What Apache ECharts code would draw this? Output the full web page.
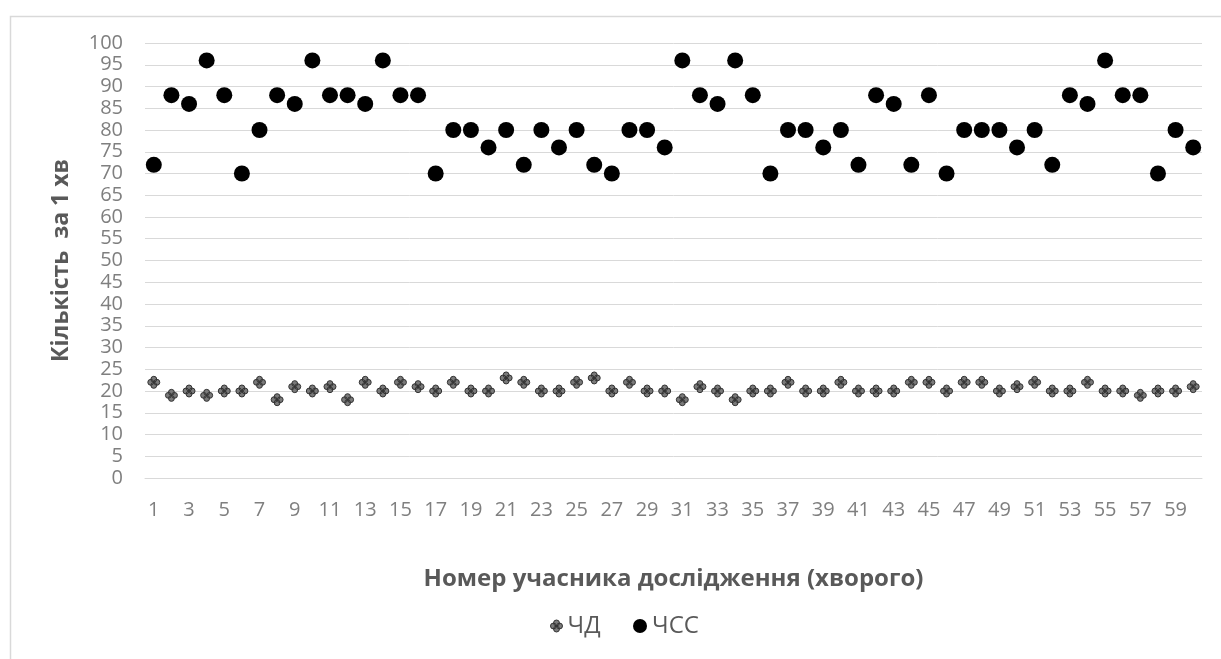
<!DOCTYPE html>
<html>
<head>
<meta charset="utf-8">
<script src="https://cdn.jsdelivr.net/npm/echarts@6/dist/echarts.min.js"></script>
<style>
html,body{margin:0;padding:0;background:#fff;}
#chart{width:1221px;height:659px;}
</style>
</head>
<body>
<div id="chart"></div>
<script>
const categories = Array.from({length: 60}, (_, i) => String(i + 1));
const rrValues = [22,19,20,19,20,20,22,18,21,20, 21,18,22,20,22,21,20,22,20,20,
                  23,22,20,20,22,23,20,22,20,20, 18,21,20,18,20,20,22,20,20,22,
                  20,20,20,22,22,20,22,22,20,21, 22,20,20,22,20,20,19,20,20,21];
const hrValues = [72,88,86,96,88,70,80,88,86,96, 88,88,86,96,88,88,70,80,80,76,
                  80,72,80,76,80,72,70,80,80,76, 96,88,86,96,88,70,80,80,76,80,
                  72,88,86,72,88,70,80,80,80,76, 80,72,88,86,96,88,88,70,80,76];
const seriesNames = ['ЧД', 'ЧСС'];
const yTitle = 'Кількість  за 1 хв';
const xTitle = 'Номер учасника дослідження (хворого)';

const font = '"Open Sans", "Noto Sans", sans-serif';
const clover = 'path://M0,-2a1,1 0 1,0 0.01,0zM0,0.1a1,1 0 1,0 0.01,0zM-1.05,-0.95a1,1 0 1,0 0.01,0zM1.05,-0.95a1,1 0 1,0 0.01,0z';
const legendText = {fontSize: 24, color: '#595959', fontFamily: font};

const chart = echarts.init(document.getElementById('chart'));
chart.setOption({
  animation: false,
  backgroundColor: '#fff',
  textStyle: {fontFamily: font},
  graphic: [{
    type: 'rect', left: 8, top: 14, z: -1,
    shape: {width: 1300, height: 700},
    style: {fill: 'none', stroke: '#d9d9d9', lineWidth: 1.5}
  }],
  grid: {left: 145, right: 19, top: 43, bottom: 181, containLabel: false},
  legend: [
    {
      left: 545, top: 609, itemWidth: 12, itemHeight: 12, textStyle: legendText,
      data: [{name: seriesNames[0], icon: clover, itemStyle: {color: '#7a7a7a', borderColor: '#333', borderWidth: 1}}]
    },
    {
      left: 628, top: 609, itemWidth: 14, itemHeight: 14, textStyle: legendText,
      data: [{name: seriesNames[1], icon: 'circle', itemStyle: {color: '#000'}}]
    }
  ],
  xAxis: {
    type: 'category',
    data: categories,
    boundaryGap: true,
    axisLine: {show: true, lineStyle: {color: '#d9d9d9'}},
    axisTick: {show: false},
    axisLabel: {interval: 1, color: '#7f7f7f', fontSize: 20, margin: 22, fontFamily: font},
    name: xTitle,
    nameLocation: 'middle',
    nameGap: 89,
    nameTextStyle: {fontSize: 24, fontWeight: 'bold', color: '#595959', fontFamily: font}
  },
  yAxis: {
    type: 'value',
    min: 0, max: 100, interval: 5,
    axisLine: {show: false},
    axisTick: {show: false},
    splitLine: {lineStyle: {color: '#d9d9d9', width: 1}},
    axisLabel: {color: '#7f7f7f', fontSize: 20, margin: 22, fontFamily: font},
    name: yTitle,
    nameLocation: 'middle',
    nameGap: 72,
    nameRotate: 90,
    nameTextStyle: {fontSize: 23, fontWeight: 'bold', color: '#595959', fontFamily: font}
  },
  series: [
    {
      name: seriesNames[0], type: 'scatter', data: rrValues,
      symbol: clover, symbolSize: 12,
      itemStyle: {color: '#7a7a7a', borderColor: '#333', borderWidth: 1, opacity: 1}
    },
    {
      name: seriesNames[1], type: 'scatter', data: hrValues,
      symbol: 'circle', symbolSize: 16,
      itemStyle: {color: '#000', opacity: 1}
    }
  ]
});
</script>
</body>
</html>
